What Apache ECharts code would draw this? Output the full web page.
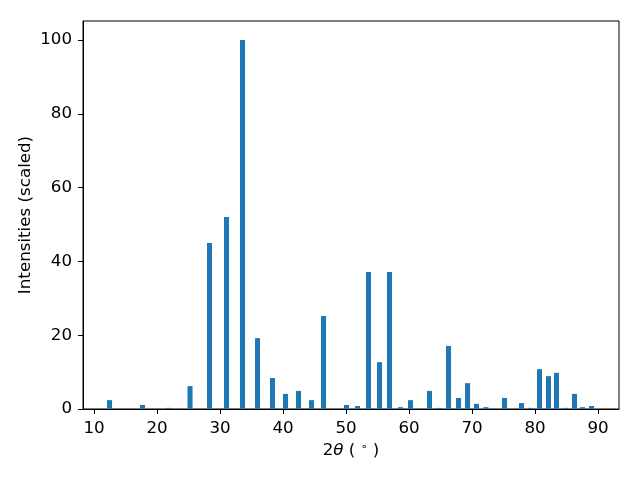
<!DOCTYPE html>
<html>
<head>
<meta charset="utf-8">
<script src="https://cdn.jsdelivr.net/npm/echarts@6/dist/echarts.min.js"></script>
<style>html,body{margin:0;padding:0;background:#fff;}#c{width:640px;height:480px;}</style>
</head>
<body>
<div id="c"></div>
<script>
const twoTheta = [12.46, 17.7, 21.8, 25.24, 28.33, 31.03, 33.57, 35.95, 38.33, 40.4, 42.46, 44.52, 46.43, 50.08, 51.83, 53.57, 55.32, 56.9, 58.65, 60.24, 63.25, 64.84, 66.27, 67.86, 69.29, 70.71, 72.2, 75.16, 77.86, 79.29, 80.71, 82.14, 83.41, 84.84, 86.27, 87.54, 88.97];
const intensities = [2.4, 1.1, 0.3, 6.2, 45, 52, 100, 19.2, 8.4, 4.1, 4.9, 2.4, 25.2, 1.1, 0.8, 37.1, 12.7, 37.1, 0.5, 2.4, 4.9, 0.3, 17.1, 3.0, 7.0, 1.4, 0.5, 3.0, 1.6, 0.3, 10.8, 8.9, 9.8, 0.3, 4.1, 0.5, 0.8];
const xTicks = [10, 20, 30, 40, 50, 60, 70, 80, 90];
const yTicks = [0, 20, 40, 60, 80, 100];
const barWidth = 0.8;

const data = twoTheta.map((x, i) => [x, intensities[i]]);
const chart = echarts.init(document.getElementById('c'), null, {renderer: 'canvas'});
const font = 'DejaVu Sans';
const fs = 16.7;
chart.setOption({
  animation: false,
  backgroundColor: '#fff',
  grid: {left: 83, right: 21, top: 21, bottom: 71, show: true, borderColor: '#000', borderWidth: 1},
  xAxis: {
    type: 'value', min: 8.25, max: 93.33,
    name: '2{i|θ} ( {s|∘} )', nameLocation: 'middle', nameGap: 33, nameMoveOverlap: false,
    nameTextStyle: {fontFamily: font, fontSize: fs, color: '#000',
      rich: {i: {fontStyle: 'italic', fontFamily: font, fontSize: fs, color: '#000'},
             s: {fontFamily: font, fontSize: 11, color: '#000', verticalAlign: 'top', padding: [0, 0, 7, 0]}}},
    axisLine: {show: true, onZero: false, lineStyle: {color: '#000', width: 1}},
    axisTick: {show: true, inside: false, length: 5, lineStyle: {color: '#000'}, customValues: xTicks},
    axisLabel: {fontFamily: font, fontSize: fs, color: '#000', margin: 11, customValues: xTicks},
    splitLine: {show: false}
  },
  yAxis: {
    type: 'value', min: 0, max: 105.15,
    name: 'Intensities (scaled)', nameLocation: 'middle', nameGap: 49, nameMoveOverlap: false,
    nameTextStyle: {fontFamily: font, fontSize: fs, color: '#000'},
    axisLine: {show: true, lineStyle: {color: '#000', width: 1}},
    axisTick: {show: true, inside: false, length: 5, lineStyle: {color: '#000'}, customValues: yTicks},
    axisLabel: {fontFamily: font, fontSize: fs, color: '#000', margin: 11, customValues: yTicks},
    splitLine: {show: false}
  },
  series: [{
    type: 'custom',
    data: data,
    clip: true,
    renderItem: function (params, api) {
      const x = api.value(0), y = api.value(1);
      const p0 = api.coord([x - barWidth / 2, y]);
      const p1 = api.coord([x + barWidth / 2, 0]);
      return {
        type: 'rect',
        shape: {x: p0[0], y: p0[1], width: p1[0] - p0[0], height: p1[1] - p0[1]},
        style: {fill: '#1f77b4'}
      };
    }
  }]
});
</script>
</body>
</html>
